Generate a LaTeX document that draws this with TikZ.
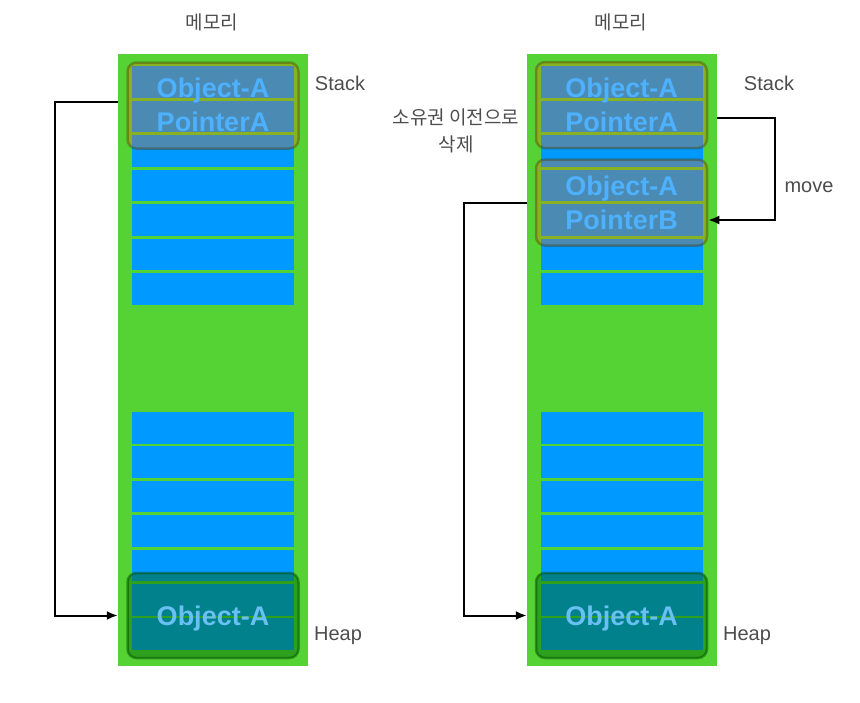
\documentclass[tikz,border=0pt]{standalone}
\usepackage{fontspec}
\setmainfont{Liberation Sans}
\newfontfamily\krfont{Noto Sans CJK KR}
\usetikzlibrary{arrows.meta}

\definecolor{memgreen}{RGB}{85,211,53}
\definecolor{cellblue}{RGB}{0,153,255}
\definecolor{stackfill}{RGB}{250,104,0}
\definecolor{stackline}{RGB}{80,60,0}
\definecolor{heapfill}{RGB}{0,100,0}
\definecolor{heapline}{RGB}{0,80,0}
\definecolor{objtext}{RGB}{77,177,255}
\definecolor{heaptext}{RGB}{105,192,242}
\definecolor{labelgray}{RGB}{77,77,77}

\newcommand{\objfont}{\fontsize{27}{30}\selectfont\bfseries}
\newcommand{\lblfont}{\fontsize{20}{24}\selectfont}
\newcommand{\krlbl}{\krfont\fontsize{19}{27}\selectfont}

\tikzset{
  stackbox/.style={rectangle,rounded corners=9pt,minimum width=171pt,minimum height=86pt,
    fill=stackfill,fill opacity=0.3,draw=stackline,draw opacity=0.4,line width=2.5pt},
  heapbox/.style={rectangle,rounded corners=9pt,minimum width=171pt,minimum height=85pt,
    fill=heapfill,fill opacity=0.45,draw=heapline,draw opacity=0.5,line width=2.5pt},
  ptr/.style={line width=2pt,-{Latex[length=11pt,width=9pt]}}
}

\begin{document}
\begin{tikzpicture}[x=1pt,y=-1pt]
  \useasboundingbox (0,0) rectangle (860,702);

  % memory columns
  \begin{scope}[every node/.style={rectangle,fill=memgreen,minimum width=190pt,minimum height=612pt,inner sep=0pt}]
    \node (colL) at (213,360) {};
    \node (colR) at (622,360) {};
  \end{scope}

  % stack and heap cells
  \foreach \cx in {213,621.5} {
    \foreach \i in {0,...,6} {
      \fill[cellblue] (\cx-81,66+\i*34.5) rectangle (\cx+81,97.5+\i*34.5);
      \fill[cellblue] (\cx-81,412+\i*34.4) rectangle (\cx+81,443.5+\i*34.4);
    }
  }

  \begin{scope}[every node/.style=stackbox]
    \node (stkL) at (213,105.5) {};
    \node (stkA) at (621.5,105) {};
    \node (stkB) at (621.5,202.5) {};
  \end{scope}

  \begin{scope}[every node/.style=heapbox]
    \node (heapL) at (213,615.5) {};
    \node (heapR) at (621.5,615.5) {};
  \end{scope}

  \begin{scope}[every node/.style={font=\objfont,text=objtext}]
    \node (objL)  at (213,91)    {Object-A};
    \node (ptrL)  at (213,122)   {PointerA};
    \node (objA)  at (621.5,91)  {Object-A};
    \node (ptrA)  at (621.5,122) {PointerA};
    \node (objB)  at (621.5,189) {Object-A};
    \node (ptrB)  at (621.5,220) {PointerB};
  \end{scope}

  \begin{scope}[every node/.style={font=\objfont,text=heaptext}]
    \node (hobjL) at (213,619)   {Object-A};
    \node (hobjR) at (621.5,619) {Object-A};
  \end{scope}

  \begin{scope}[every node/.style={font=\lblfont,text=labelgray}]
    \node (stkLblL)  at (340,83)  {Stack};
    \node (stkLblR)  at (769,83)  {Stack};
    \node (heapLblL) at (338,636) {Heap};
    \node (heapLblR) at (747,636) {Heap};
    \node (moveLbl)  at (809,187) {move};
  \end{scope}

  \begin{scope}[every node/.style={font=\krlbl,text=labelgray,align=center}]
    \node (memLblL) at (212,22)  {메모리};
    \node (memLblR) at (621,22)  {메모리};
    \node (dropLbl) at (456,131) {소유권 이전으로\\삭제};
  \end{scope}

  % pointers into the heap, and the move
  \coordinate (outL) at (118,102);
  \coordinate (outR) at (527,203);
  \coordinate (mvS)  at (717,118);
  \draw[ptr] (outL) -- ++(-63,0) |- (colL.west |- heapL);
  \draw[ptr] (outR) -- ++(-63,0) |- (colR.west |- heapR);
  \draw[ptr] (mvS) -- ++(58,0) |- (stkB.east |- ptrB);

\end{tikzpicture}
\end{document}
